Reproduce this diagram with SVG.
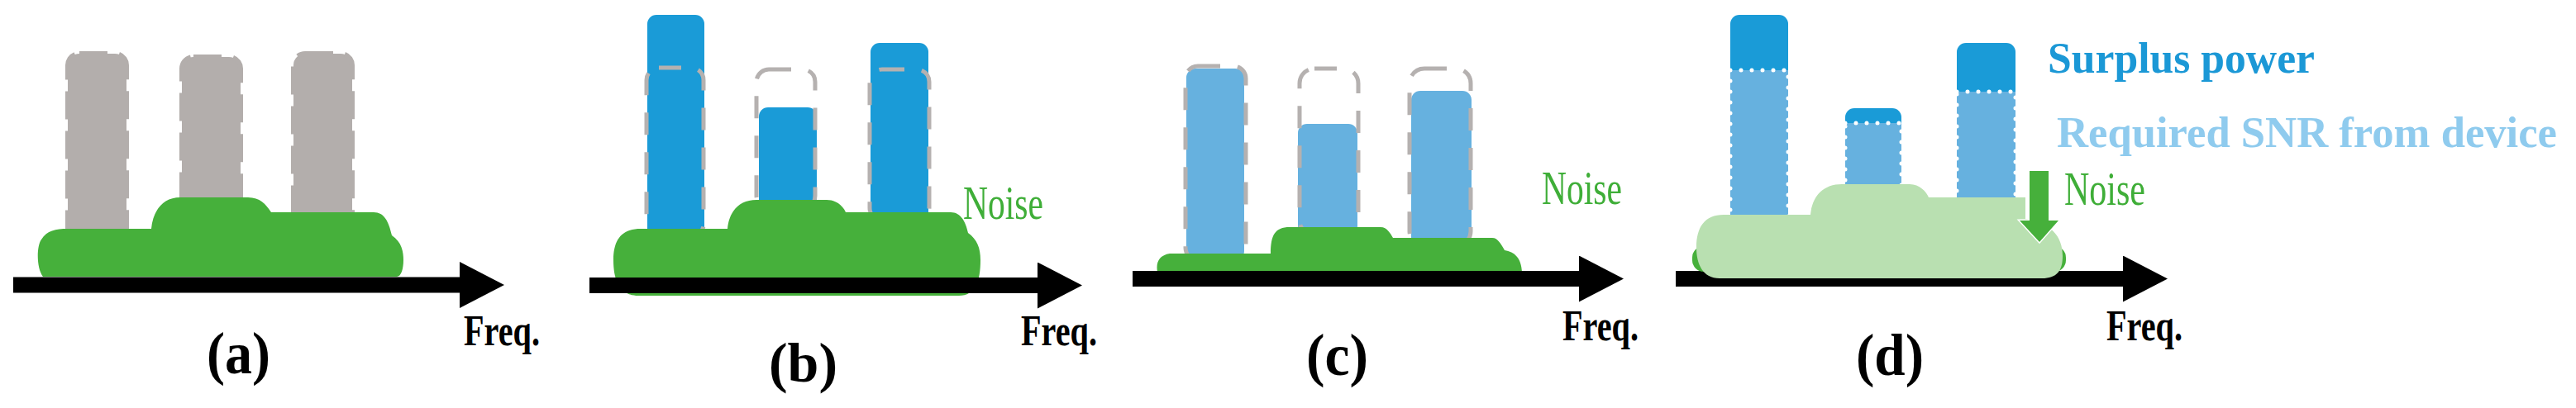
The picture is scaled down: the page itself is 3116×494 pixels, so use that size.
<svg xmlns="http://www.w3.org/2000/svg" width="3116" height="494" viewBox="0 0 3116 494">
<style>
text{font-family:"Liberation Serif","Times New Roman",serif}
.lbl{font-weight:bold;fill:#000}
.freq{font-weight:bold;font-size:53px;fill:#000}
.noise{font-size:57px;fill:#3fae38}
.gray{fill:#b3aeac;stroke:#b3aeac;stroke-width:6;stroke-dasharray:34 14}
.blue{fill:#1a9bd7}
.lblue{fill:#66b1df}
.ghost{fill:none;stroke:#b5b1b0;stroke-width:5;stroke-dasharray:27 21}
.green{fill:#46b03b}
.lgreen{fill:#b9e0b1}
.dots{fill:none;stroke:#fff;stroke-width:5;stroke-dasharray:0 13;stroke-linecap:round}
.axis{fill:none;stroke:#000;stroke-width:19;marker-end:url(#ah)}
</style>
<defs>
<marker id="ah" markerUnits="userSpaceOnUse" markerWidth="54" markerHeight="56" viewBox="0 0 54 56" refX="0" refY="28" orient="auto">
<path d="M0,0 L54,28 L0,56 Z" fill="#000"/>
</marker>
</defs>
<rect width="3116" height="494" fill="#fff"/>

<g id="panel-a">
<rect class="gray" x="82" y="65" width="71" height="225" rx="14"/>
<rect class="gray" x="220" y="69" width="71" height="200" rx="14"/>
<rect class="gray" x="355" y="65" width="71" height="210" rx="14"/>
<path class="green" d="M52,335 C44,325 44,298 50,290 C57,279 67,277 82,277 L183,277 C185,255 197,239 218,239 L300,239 C315,239 322,248 328,257 L452,257 C465,257 470,268 474,285 C486,293 488,305 488,315 C488,326 485,335 480,335 Z"/>
</g>

<g id="panel-b">
<rect class="blue" x="783" y="18" width="69" height="272" rx="11"/>
<rect class="blue" x="918" y="130" width="70" height="125" rx="11"/>
<rect class="blue" x="1053" y="52" width="70" height="218" rx="11"/>
<rect class="ghost" x="782" y="82" width="69" height="205" rx="15"/>
<rect class="ghost" x="915" y="84" width="71" height="168" rx="15"/>
<rect class="ghost" x="1052" y="84" width="72" height="183" rx="15"/>
<path class="green" d="M772,358 C750,358 742,340 742,315 C742,290 752,277 775,277 L880,277 C882,255 895,242 915,242 L1000,242 C1012,242 1020,250 1023,257 L1150,257 C1162,257 1168,268 1171,282 C1182,290 1186,300 1186,315 C1186,340 1180,358 1160,358 Z"/>
</g>

<g id="panel-c">
<rect class="lblue" x="1435" y="83" width="70" height="232" rx="11"/>
<rect class="lblue" x="1570" y="150" width="72" height="135" rx="11"/>
<rect class="lblue" x="1707" y="110" width="73" height="188" rx="11"/>
<rect class="ghost" x="1434" y="80" width="73" height="235" rx="15"/>
<rect class="ghost" x="1572" y="83" width="71" height="202" rx="18"/>
<rect class="ghost" x="1705" y="83" width="74" height="215" rx="18"/>
<path class="green" d="M1400,329 C1398,318 1402,309 1415,307 L1537,307 C1537,285 1542,275 1560,275 L1670,275 C1678,275 1682,283 1685,288 L1805,288 C1812,288 1816,296 1820,303 C1832,305 1840,312 1841,329 Z"/>
</g>

<g id="axes">
<path class="axis" d="M16,345 H556"/>
<path class="axis" d="M713,345.5 H1255"/>
<path class="axis" d="M1370,337.5 H1910"/>
<path class="axis" d="M2027,337.5 H2568"/>
</g>

<g id="panel-d">
<rect class="green" x="2047" y="298" width="452" height="31" rx="14"/>
<rect class="blue" x="2093" y="18" width="70" height="82" rx="11"/>
<rect class="lblue" x="2093" y="85" width="70" height="190"/>
<rect class="dots" x="2093" y="85" width="70" height="190"/>
<rect class="blue" x="2232" y="131" width="68" height="30" rx="11"/>
<rect class="lblue" x="2232" y="149" width="68" height="90"/>
<rect class="dots" x="2232" y="149" width="68" height="90"/>
<rect class="blue" x="2367" y="52" width="71" height="70" rx="11"/>
<rect class="lblue" x="2367" y="111" width="71" height="145"/>
<rect class="dots" x="2367" y="111" width="71" height="145"/>
<path class="lgreen" d="M2080,337 C2060,337 2052,320 2052,300 C2052,275 2062,260 2085,260 L2190,260 C2192,238 2205,223 2228,223 L2310,223 C2322,223 2330,232 2333,239 L2450,239 L2450,265 C2480,270 2495,285 2495,310 C2495,328 2488,337 2470,337 Z"/>
<path d="M2455,207 L2478,207 L2478,267 L2490,267 L2467,293 L2443,267 L2455,267 Z" fill="#46b03b" stroke="#fff" stroke-width="3" paint-order="stroke"/>
</g>

<g id="labels">
<text class="lbl" x="250" y="452" font-size="72" textLength="77" lengthAdjust="spacingAndGlyphs">(a)</text>
<text class="lbl" x="930" y="462" font-size="68" textLength="83" lengthAdjust="spacingAndGlyphs">(b)</text>
<text class="lbl" x="1580" y="454" font-size="71" textLength="75" lengthAdjust="spacingAndGlyphs">(c)</text>
<text class="lbl" x="2245" y="454" font-size="71" textLength="82" lengthAdjust="spacingAndGlyphs">(d)</text>
<text class="freq" x="561" y="418" textLength="92" lengthAdjust="spacingAndGlyphs">Freq.</text>
<text class="freq" x="1235" y="418" textLength="92" lengthAdjust="spacingAndGlyphs">Freq.</text>
<text class="freq" x="1890" y="412" textLength="92" lengthAdjust="spacingAndGlyphs">Freq.</text>
<text class="freq" x="2548" y="412" textLength="92" lengthAdjust="spacingAndGlyphs">Freq.</text>
<text class="noise" x="1165" y="265" textLength="97" lengthAdjust="spacingAndGlyphs">Noise</text>
<text class="noise" x="1865" y="247" textLength="97" lengthAdjust="spacingAndGlyphs">Noise</text>
<text class="noise" x="2497" y="248" textLength="98" lengthAdjust="spacingAndGlyphs">Noise</text>
<text x="2477" y="88" font-size="53" font-weight="bold" fill="#1b98d6" textLength="323" lengthAdjust="spacingAndGlyphs">Surplus power</text>
<text x="2488" y="178" font-size="53" font-weight="bold" fill="#8fcbee" textLength="605" lengthAdjust="spacingAndGlyphs">Required SNR from device</text>
</g>
</svg>
